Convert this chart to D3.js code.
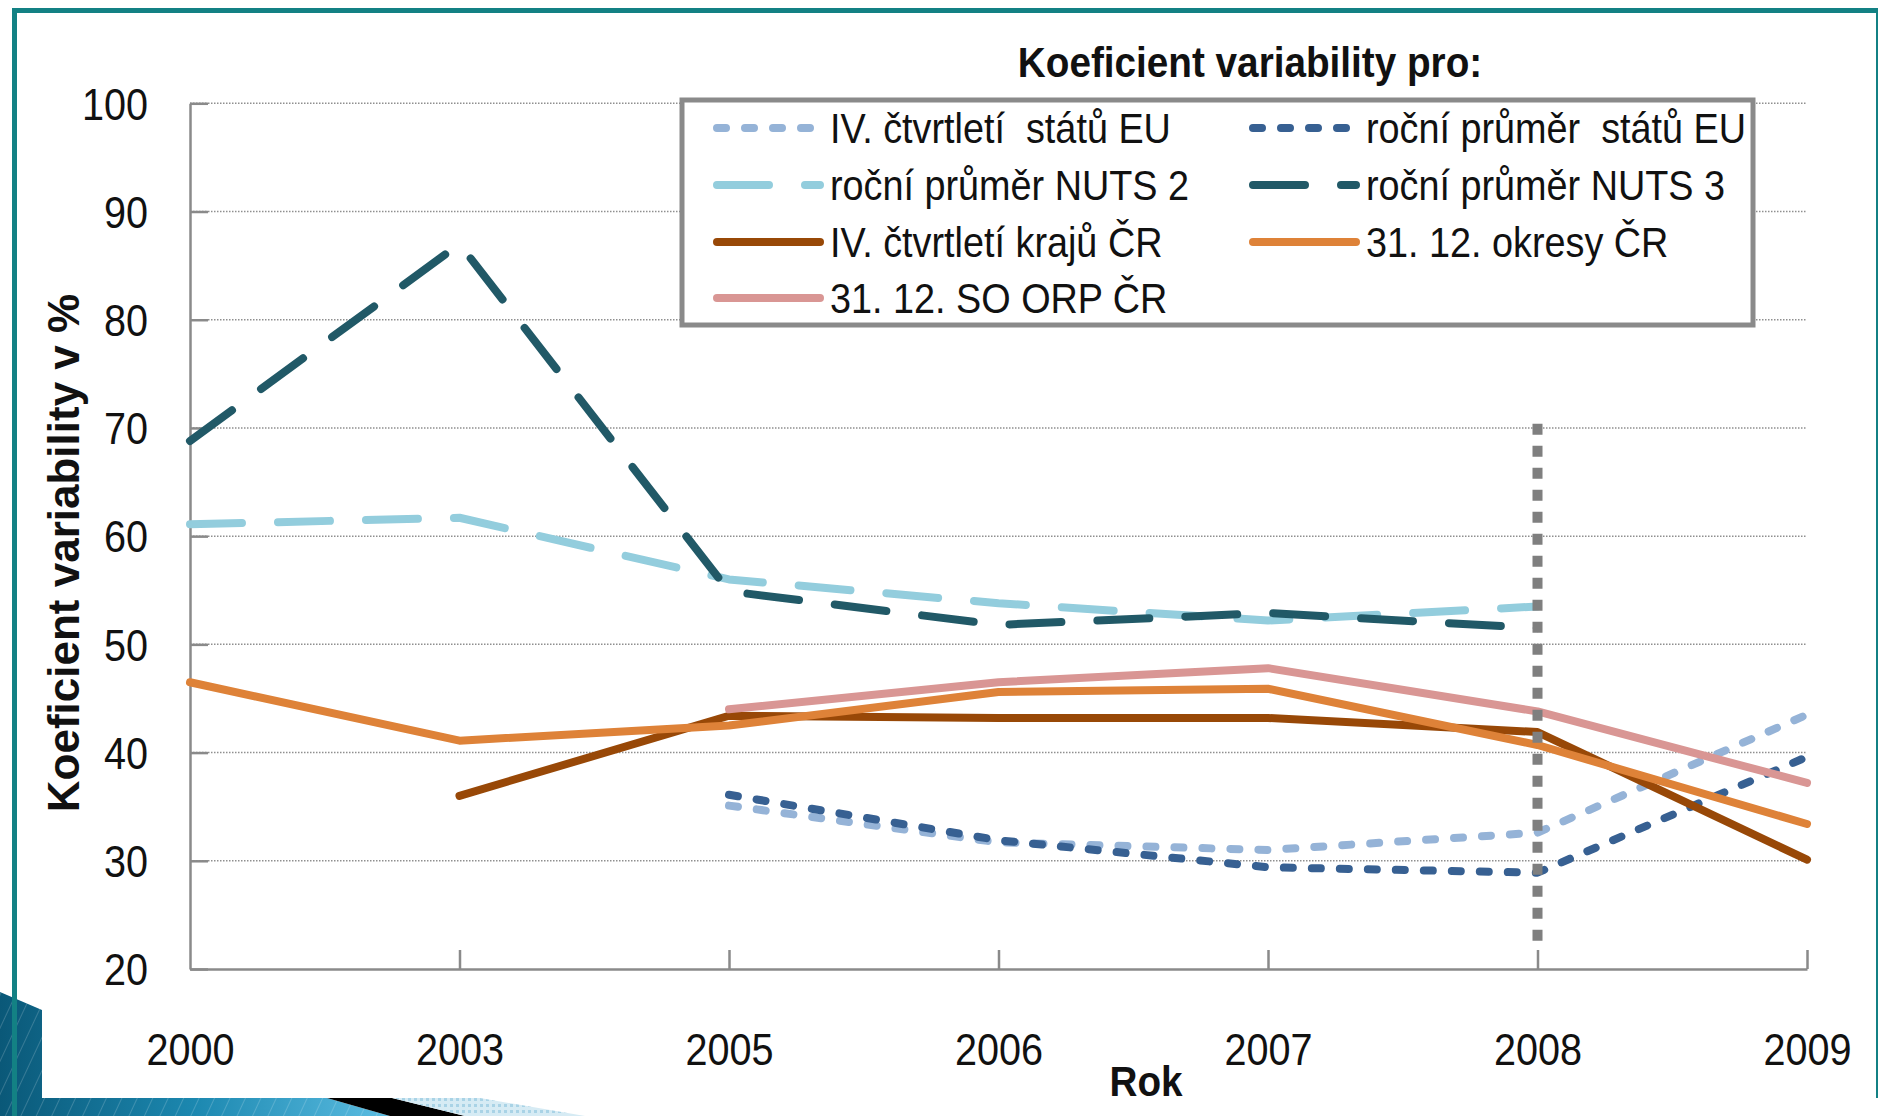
<!DOCTYPE html>
<html>
<head>
<meta charset="utf-8">
<title>Koeficient variability</title>
<style>
body { margin: 0; background: #fff; }
svg { display: block; font-family: "Liberation Sans", Arial, sans-serif; }
.grid line { stroke: #8f8f8f; stroke-width: 1.5; stroke-dasharray: 1.5,1.5; }
.axis path, .axis line { stroke: #8a8a8a; stroke-width: 2.5; }
.axis text { fill: #111; font-size: 44px; }
.series { fill: none; stroke-width: 8; stroke-linejoin: round; stroke-linecap: round; }
text { white-space: pre; }
</style>
</head>
<body>
<svg width="1878" height="1116"></svg>
<script src="https://cdn.jsdelivr.net/npm/d3@7"></script>
<script>

// categories (x axis is a category axis, equal spacing)
var years = ["2000", "2003", "2005", "2006", "2007", "2008", "2009"];
var yTicks = [20, 30, 40, 50, 60, 70, 80, 90, 100];

// series values (null = no value)
var ivStatuEU     = [null, null, 35.1, 31.7, 31.0, 32.6, 43.5];
var rocniStatuEU  = [null, null, 36.1, 31.9, 29.4, 28.9, 39.6];
var rocniNuts2    = [61.1, 61.7, 56.0, 53.8, 52.2, 53.5, null];
var rocniNuts3    = [68.8, 87.0, 54.9, 51.8, 52.9, 51.5, null];
var ivKrajuCR     = [null, 36.0, 43.4, 43.2, 43.2, 41.9, 30.1];
var okresyCR      = [46.5, 41.1, 42.5, 45.6, 45.9, 40.7, 33.4];
var soOrpCR       = [null, null, 44.0, 46.5, 47.8, 43.8, 37.2];

var seriesNames = [
  "IV. čtvrtletí  států EU",
  "roční průměr  států EU",
  "roční průměr NUTS 2",
  "roční průměr NUTS 3",
  "IV. čtvrtletí krajů ČR",
  "31. 12. okresy ČR",
  "31. 12. SO ORP ČR"
];
var seriesValues = [ivStatuEU, rocniStatuEU, rocniNuts2, rocniNuts3, ivKrajuCR, okresyCR, soOrpCR];

// vertical marker at 2008
var markerYear = "2008";
var markerFrom = 22.6, markerTo = 70.6;

// styles (kept apart from the data)
var seriesColors = ["#95b3d7", "#376092", "#93cddd", "#215967", "#984807", "#de8238", "#d99694"];
var seriesDash = ["9,19", "9,19", "52,36", "52,36", null, null, null];

var svg = d3.select("svg"),
    width = +svg.attr("width"),
    height = +svg.attr("height");

// ---- slide decoration ----
var defs = svg.append("defs");
var grad = defs.append("linearGradient").attr("id", "blueGrad")
    .attr("x1", "0").attr("x2", "1").attr("y1", "0").attr("y2", "0");
grad.append("stop").attr("offset", "0").attr("stop-color", "#0a5878");
grad.append("stop").attr("offset", "0.5").attr("stop-color", "#1c88b0");
grad.append("stop").attr("offset", "1").attr("stop-color", "#5cbde2");
var stripes = defs.append("pattern").attr("id", "stripes")
    .attr("width", 14).attr("height", 14)
    .attr("patternUnits", "userSpaceOnUse")
    .attr("patternTransform", "rotate(25)");
stripes.append("line").attr("x1", 0).attr("y1", 0).attr("x2", 0).attr("y2", 14)
    .attr("stroke", "#ffffff").attr("stroke-opacity", 0.18).attr("stroke-width", 2);
var checks = defs.append("pattern").attr("id", "checks")
    .attr("width", 6).attr("height", 6).attr("patternUnits", "userSpaceOnUse");
checks.append("rect").attr("width", 6).attr("height", 6).attr("fill", "#d6ebf4");
checks.append("rect").attr("width", 3).attr("height", 3).attr("fill", "#a9d3e6");

var deco = svg.append("g");
var bluePts = [[0, 992], [42, 1010], [42, 1098], [327, 1098], [390, 1116], [0, 1116]];
deco.append("polygon").attr("points", bluePts.join(" ")).attr("fill", "url(#blueGrad)");
deco.append("polygon").attr("points", bluePts.join(" ")).attr("fill", "url(#stripes)");
deco.append("polygon").attr("points", [[327, 1098], [392, 1098], [465, 1116], [390, 1116]].join(" "))
    .attr("fill", "#000");
deco.append("polygon").attr("points", [[392, 1098], [480, 1098], [585, 1116], [465, 1116]].join(" "))
    .attr("fill", "url(#checks)");

// teal frame
deco.append("rect").attr("x", 12).attr("y", 8).attr("width", width - 12).attr("height", 5).attr("fill", "#138184");
deco.append("rect").attr("x", 12).attr("y", 8).attr("width", 5).attr("height", height - 8).attr("fill", "#138184");
deco.append("rect").attr("x", width - 2).attr("y", 8).attr("width", 2).attr("height", 1090).attr("fill", "#138184");

// ---- scales ----
var x = d3.scalePoint().domain(years).range([190, 1807]);
var y = d3.scaleLinear().domain([20, 100]).range([969, 103.3]);

// helper for the condensed looking horizontal text
function hText(g, tx, ty, str, size, anchor, weight) {
  return g.append("text")
      .attr("transform", "translate(" + tx + "," + ty + ") scale(0.9,1)")
      .attr("text-anchor", anchor)
      .attr("font-size", size)
      .attr("font-weight", weight || "normal")
      .attr("fill", "#111")
      .text(str);
}

// gridlines
svg.append("g").attr("class", "grid")
  .selectAll("line")
  .data(yTicks.filter(function(d) { return d > 20; }))
  .enter().append("line")
    .attr("x1", x.range()[0]).attr("x2", x.range()[1])
    .attr("y1", function(d) { return y(d); })
    .attr("y2", function(d) { return y(d); });

// axes
var yAxis = svg.append("g").attr("class", "axis")
    .attr("transform", "translate(" + x.range()[0] + ",0)")
    .call(d3.axisLeft(y).tickValues(yTicks).tickSizeInner(-18).tickSizeOuter(0).tickPadding(42));
yAxis.selectAll("text")
    .attr("x", -42 / 0.9)
    .attr("dy", "0.36em")
    .attr("transform", "scale(0.9,1)");

var xAxis = svg.append("g").attr("class", "axis")
    .attr("transform", "translate(0," + y(20) + ")")
    .call(d3.axisBottom(x).tickSizeInner(-19).tickSizeOuter(0).tickPadding(0));
xAxis.selectAll("text")
    .attr("y", 96)
    .attr("dy", 0)
    .attr("transform", "scale(0.9,1)");
xAxis.selectAll(".tick").filter(function(d) { return d === years[0]; }).select("line").remove();

// series
var line = d3.line()
    .defined(function(d) { return d.v !== null; })
    .x(function(d) { return x(d.year); })
    .y(function(d) { return y(d.v); });

svg.append("g")
  .selectAll("path")
  .data(seriesValues)
  .enter().append("path")
    .attr("class", "series")
    .attr("stroke", function(d, i) { return seriesColors[i]; })
    .attr("stroke-dasharray", function(d, i) { return seriesDash[i]; })
    .attr("d", function(vals) {
      return line(vals.map(function(v, j) { return { year: years[j], v: v }; }));
    });

// grey dotted marker at 2008
svg.append("line")
    .attr("x1", x(markerYear)).attr("x2", x(markerYear))
    .attr("y1", y(markerFrom)).attr("y2", y(markerTo))
    .attr("stroke", "#7f7f7f")
    .attr("stroke-width", 10)
    .attr("stroke-dasharray", "11,11");

// legend
var legend = svg.append("g");
legend.append("rect")
    .attr("x", 682).attr("y", 100)
    .attr("width", 1071).attr("height", 225)
    .attr("fill", "#fff")
    .attr("stroke", "#8a8a8a")
    .attr("stroke-width", 5);

var colX = [713, 1249], rowY = [128, 185, 242, 298];
seriesNames.forEach(function(name, i) {
  var cx = colX[i % 2], cy = rowY[Math.floor(i / 2)];
  legend.append("line")
      .attr("class", "series")
      .attr("x1", cx + 4).attr("x2", cx + 107)
      .attr("y1", cy).attr("y2", cy)
      .attr("stroke", seriesColors[i])
      .attr("stroke-dasharray", seriesDash[i]);
  hText(legend, cx + 117, cy + 15, name, 42, "start");
});

// titles
hText(svg, 1250, 77, "Koeficient variability pro:", 43, "middle", "bold");
hText(svg, 1146, 1096, "Rok", 43, "middle", "bold");
svg.append("text")
    .attr("transform", "translate(79," + 553 + ") rotate(-90)")
    .attr("text-anchor", "middle")
    .attr("font-size", 44)
    .attr("font-weight", "bold")
    .attr("fill", "#111")
    .text("Koeficient variability v %");

</script>
</body>
</html>
